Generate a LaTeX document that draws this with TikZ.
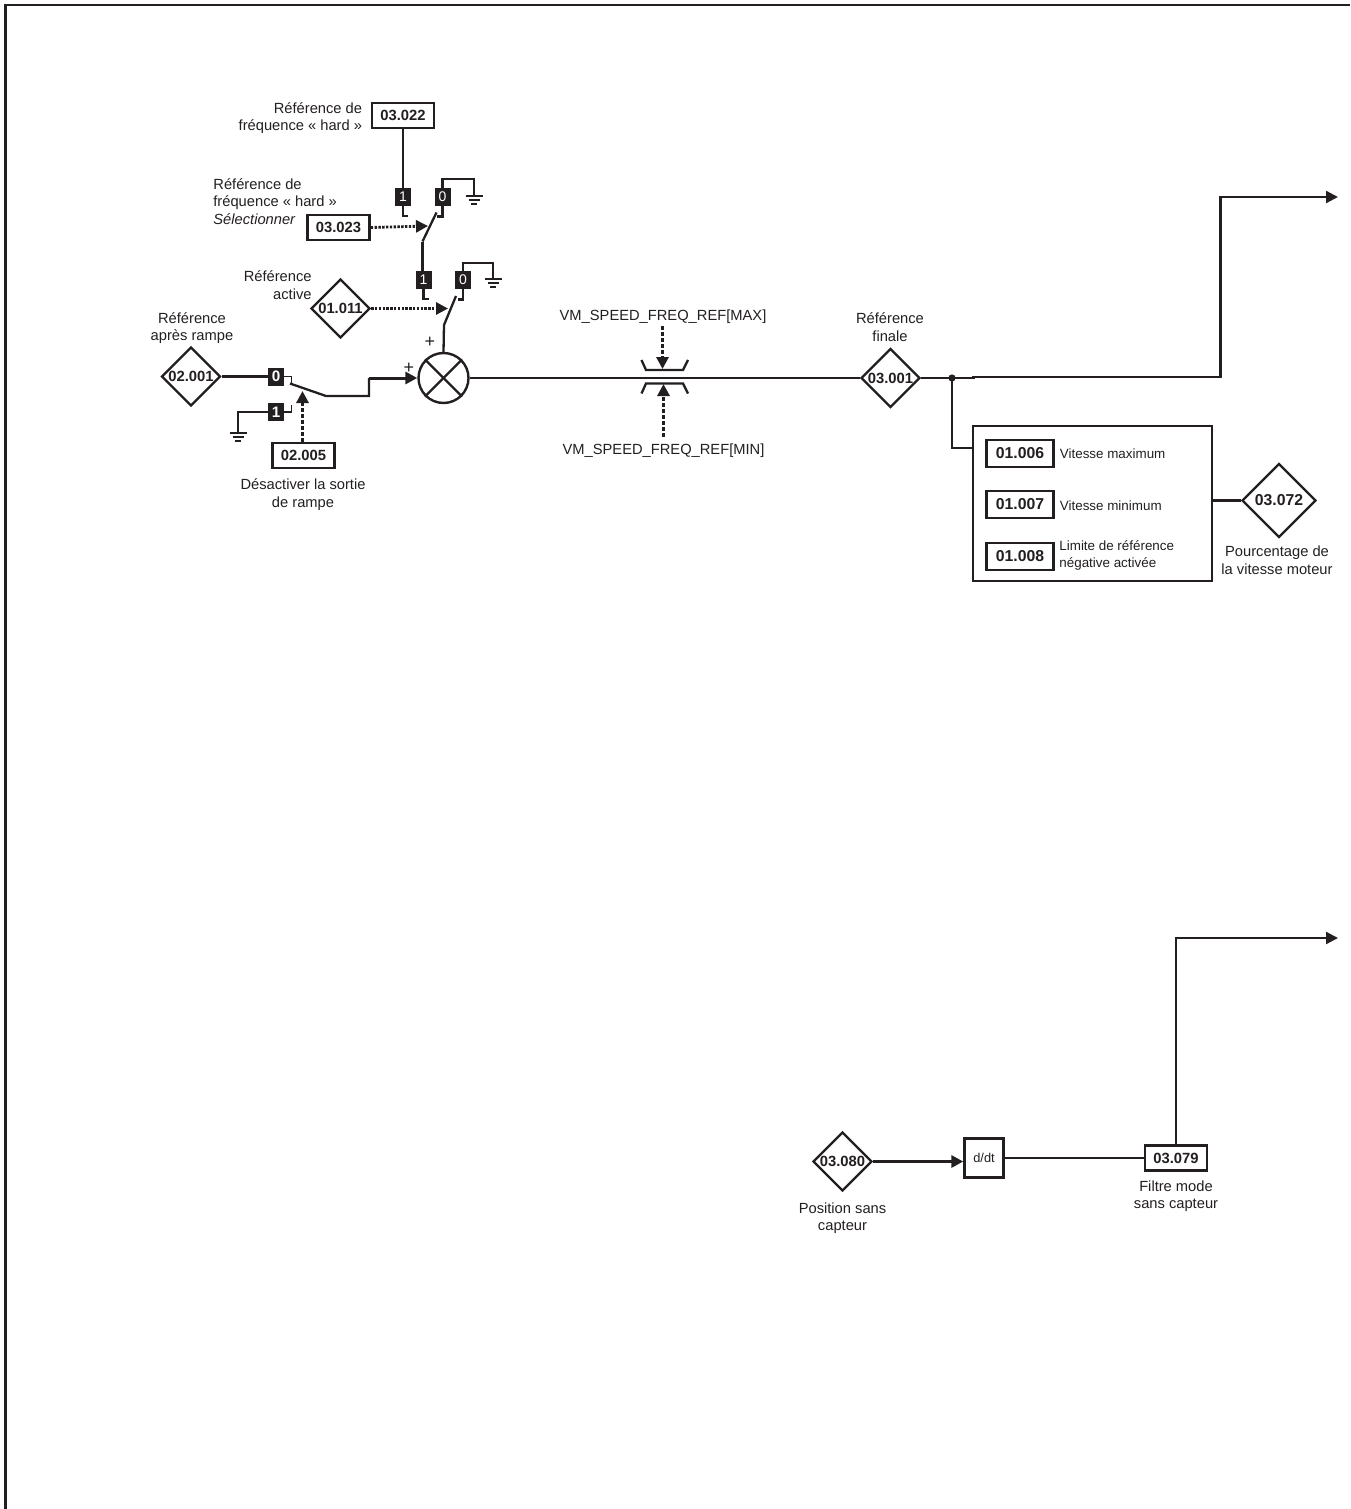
\documentclass[tikz,border=0pt]{standalone}
\usepackage{fontspec}
\setmainfont{Liberation Sans}
\usepackage{xcolor}
\definecolor{inkblack}{RGB}{35, 31, 32}
\usepackage{tikz}
\usetikzlibrary{shapes.geometric, arrows.meta, positioning, calc}
\tikzset{
    wire/.style={draw=inkblack, line width=1.15pt, line join=miter},
    heavywire/.style={draw=inkblack, line width=1.5pt},
    tiparrow/.style={-{Triangle[length=6pt, width=6pt]}},
    dotwire/.style={draw=inkblack, line width=1.4pt, dash pattern=on 1.2pt off 0.7pt, tiparrow},
    dashwire/.style={dotwire, line width=1.5pt, dash pattern=on 2pt off 1pt},
    parambox/.style={draw=inkblack, line width=1.3pt, fill=white, minimum width=31pt, minimum height=12.5pt, inner sep=0pt, text=inkblack, font=\fontsize{7.4}{9}\selectfont\bfseries},
    widebox/.style={parambox, minimum width=33.5pt, minimum height=13.5pt, font=\fontsize{7.9}{9}\selectfont\bfseries},
    paramdiamond/.style={diamond, draw=inkblack, line width=1.2pt, fill=white, minimum width=29.5pt, minimum height=29.5pt, inner sep=0pt, text=inkblack, font=\fontsize{7.4}{9}\selectfont\bfseries},
    contact/.style={fill=inkblack, minimum width=8pt, minimum height=9pt, inner sep=0pt, text=white, font=\fontsize{7}{8}\selectfont},
    boldcontact/.style={contact, font=\fontsize{7.6}{8}\selectfont\bfseries},
    lbl/.style={inner sep=0pt, text=inkblack, font=\fontsize{7.35}{8.8}\selectfont},
    smalllbl/.style={lbl, font=\fontsize{6.7}{8.6}\selectfont},
    pluslbl/.style={lbl, font=\fontsize{9}{9}\selectfont},
    earth/.pic={
        \draw[draw=inkblack, line width=1.1pt] (-8.5,0) -- (8.5,0);
        \draw[draw=inkblack, line width=1.1pt] (-5.5,4) -- (5.5,4);
        \draw[draw=inkblack, line width=1.1pt] (-3,8) -- (3,8);
    }
}
\begin{document}
\begin{tikzpicture}[x=0.5pt, y=-0.5pt]
    \useasboundingbox (0,0) rectangle (1350,1509);
    \draw[draw=inkblack, line width=1.3pt] (1350,5) -- (5.5,5) -- (5.5,1509);

    \node[parambox] (p03022) at (403,115.5) {03.022};
    \node[parambox] (p03023) at (338.5,227.5) {03.023};
    \node[parambox] (p02005) at (303.5,455.5) {02.005};
    \node[paramdiamond] (p01011) at (340.5,308.5) {01.011};
    \node[paramdiamond] (p02001) at (191,376.5) {02.001};
    \node[paramdiamond] (p03001) at (890.5,378) {03.001};
    \node[paramdiamond, minimum width=37pt, minimum height=37pt, font=\fontsize{7.9}{9}\selectfont\bfseries] (p03072) at (1279,500.5) {03.072};
    \node[paramdiamond] (p03080) at (842.5,1161.5) {03.080};
    \node[parambox] (p03079) at (1176,1158) {03.079};
    \node[draw=inkblack, line width=1.2pt, minimum width=19.5pt, minimum height=19.5pt, inner sep=0pt, text=inkblack, font=\fontsize{6.4}{8}\selectfont] (ddt) at (984,1158) {d/dt};

    \node[lbl, anchor=east, align=right] (t03022) at (362.5,118) {Référence de\\fréquence « hard »};
    \node[lbl, anchor=west, align=left] (t03023) at (213,201.5) {Référence de\\fréquence « hard »\\\textit{Sélectionner}};
    \node[lbl, anchor=east, align=right] (t01011) at (312,285) {Référence\\active};
    \node[lbl, align=center] (t02001) at (192,328) {Référence\\après rampe};
    \node[lbl, align=center] (t02005) at (303,494.5) {Désactiver la sortie\\de rampe};
    \node[lbl, align=center] (t03001) at (890,327) {Référence\\finale};
    \node[lbl] (tmax) at (663,317) {VM\_SPEED\_FREQ\_REF[MAX]};
    \node[lbl] (tmin) at (663.5,451) {VM\_SPEED\_FREQ\_REF[MIN]};
    \node[lbl, align=center] (t03072) at (1277,560) {Pourcentage de\\la vitesse moteur};
    \node[lbl, align=center] (t03080) at (842.5,1218) {Position sans\\capteur};
    \node[lbl, align=center] (t03079) at (1176,1196) {Filtre mode\\sans capteur};
    \node[pluslbl] (plusa) at (430,342) {+};
    \node[pluslbl] (plusb) at (409,368) {+};

    %% upper switch
    \node[contact] (swa1) at (403,197) {1};
    \node[contact] (swa0) at (442.5,197) {0};
    \coordinate (swatop) at (474,179);
    \pic at (474,196) {earth};
    \draw[wire] (p03022.south) -- (swa1.north);
    \draw[wire] (swa1.south) -- ++(0,9.5) -- ++(5,0);
    \draw[wire] (swa0.north) |- (swatop) -- ++(0,17);
    \draw[wire] (swa0.south) -- ++(0,10) -- ++(-5.5,0);
    \coordinate (bladea) at (436.5,212.5);
    \coordinate (hingea) at (422.5,241.5);
    \draw[wire] (bladea) -- (hingea);

    %% lower switch
    \node[contact] (swb1) at (423.5,280) {1};
    \node[contact] (swb0) at (463,280) {0};
    \coordinate (swbtop) at (493,263);
    \pic at (493,279) {earth};
    \draw[wire] (hingea) -- (hingea |- swb1.north);
    \draw[wire] (swb1.south) -- ++(0,9.5) -- ++(5,0);
    \draw[wire] (swb0.north) |- (swbtop) -- ++(0,16);
    \draw[wire] (swb0.south) -- ++(0,10) -- ++(-5.5,0);
    \coordinate (bladeb) at (456,296);
    \coordinate (hingeb) at (444,325);
    \draw[wire] (bladeb) -- (hingeb);

    \coordinate (tipa) at (428,226);
    \coordinate (tipb) at (448,308.5);
    \draw[dotwire] (p03023.east) -- (tipa);
    \draw[dotwire] (p01011.east) -- (tipb);

    %% summing point
    \node[circle, draw=inkblack, line width=1.2pt, minimum size=25pt, inner sep=0pt] (sum) at (443.5,378) {};
    \draw[wire] (sum.45) -- (sum.225);
    \draw[wire] (sum.135) -- (sum.315);
    \draw[wire] (hingeb) -- (sum.north);

    %% ramp switch
    \node[boldcontact] (swc0) at (276,376.5) {0};
    \node[boldcontact] (swc1) at (276,412) {1};
    \coordinate (earthc) at (238,433);
    \pic at (earthc) {earth};
    \draw[heavywire] (p02001.east) -- (swc0.west);
    \draw[wire, line width=0.8pt] (swc0.east) -- ++(7,0) -- ++(0,7);
    \draw[wire, line width=0.8pt] (swc1.east) -- ++(7,0) -- ++(0,-7);
    \draw[wire] (swc1.west) -| (earthc);
    \coordinate (bladec) at (290,383.5);
    \coordinate (kneec) at (326,396);
    \coordinate (stepc) at (369,396);
    \coordinate (stepd) at (369,378);
    \draw[wire] (bladec) -- (kneec) -- (stepc) -- (stepd);
    \draw[heavywire, tiparrow] (stepd) -- (sum.west);
    \coordinate (tipc) at (302.5,391);
    \draw[dashwire] (p02005.north -| tipc) -- (tipc);

    %% limiter
    \draw[wire] (641.5,360) -- (646,370) -- (683,370) -- (688,360);
    \draw[wire] (641.5,393.5) -- (646,383.5) -- (683,383.5) -- (688,393.5);
    \draw[wire] (sum.east) -- (p03001.west);
    \coordinate (maxstart) at (662.5,326);
    \coordinate (maxtip) at (662.5,369);
    \coordinate (minstart) at (663.5,437);
    \coordinate (mintip) at (663.5,384);
    \draw[dashwire] (maxstart) -- (maxtip);
    \draw[dashwire] (minstart) -- (mintip);

    %% outputs
    \coordinate (join) at (952,378);
    \coordinate (outa) at (1338,197);
    \fill[inkblack] (join) circle (1.8pt);
    \draw[wire] (p03001.east) -- (975,378);
    \draw[wire, tiparrow] (972,377) -- (1220.5,377) -- (1220.5,197) -- (outa);

    \node[draw=inkblack, line width=1.2pt, minimum width=119.5pt, minimum height=77.5pt, inner sep=0pt] (limbox) at (1092.5,503.5) {};
    \node[widebox] (p01006) at (1020,453.5) {01.006};
    \node[widebox] (p01007) at (1020,504.5) {01.007};
    \node[widebox] (p01008) at (1020,556.5) {01.008};
    \node[smalllbl, anchor=west] (t01006) at (1059.5,453.5) {Vitesse maximum};
    \node[smalllbl, anchor=west] (t01007) at (1059.5,505.5) {Vitesse minimum};
    \node[smalllbl, anchor=west, align=left] (t01008) at (1059,555.5) {Limite de référence\\négative activée};
    \draw[wire] (join) |- (limbox.west |- 0,448);
    \draw[wire] (limbox.east |- p03072.west) -- (p03072.west);

    \coordinate (outb) at (1338,938);
    \draw[heavywire, tiparrow] (p03080.east) -- (ddt.west |- p03080.east);
    \draw[wire] (ddt.east) -- (p03079.west);
    \draw[wire, tiparrow] (p03079.north) |- (outb);
\end{tikzpicture}
\end{document}
